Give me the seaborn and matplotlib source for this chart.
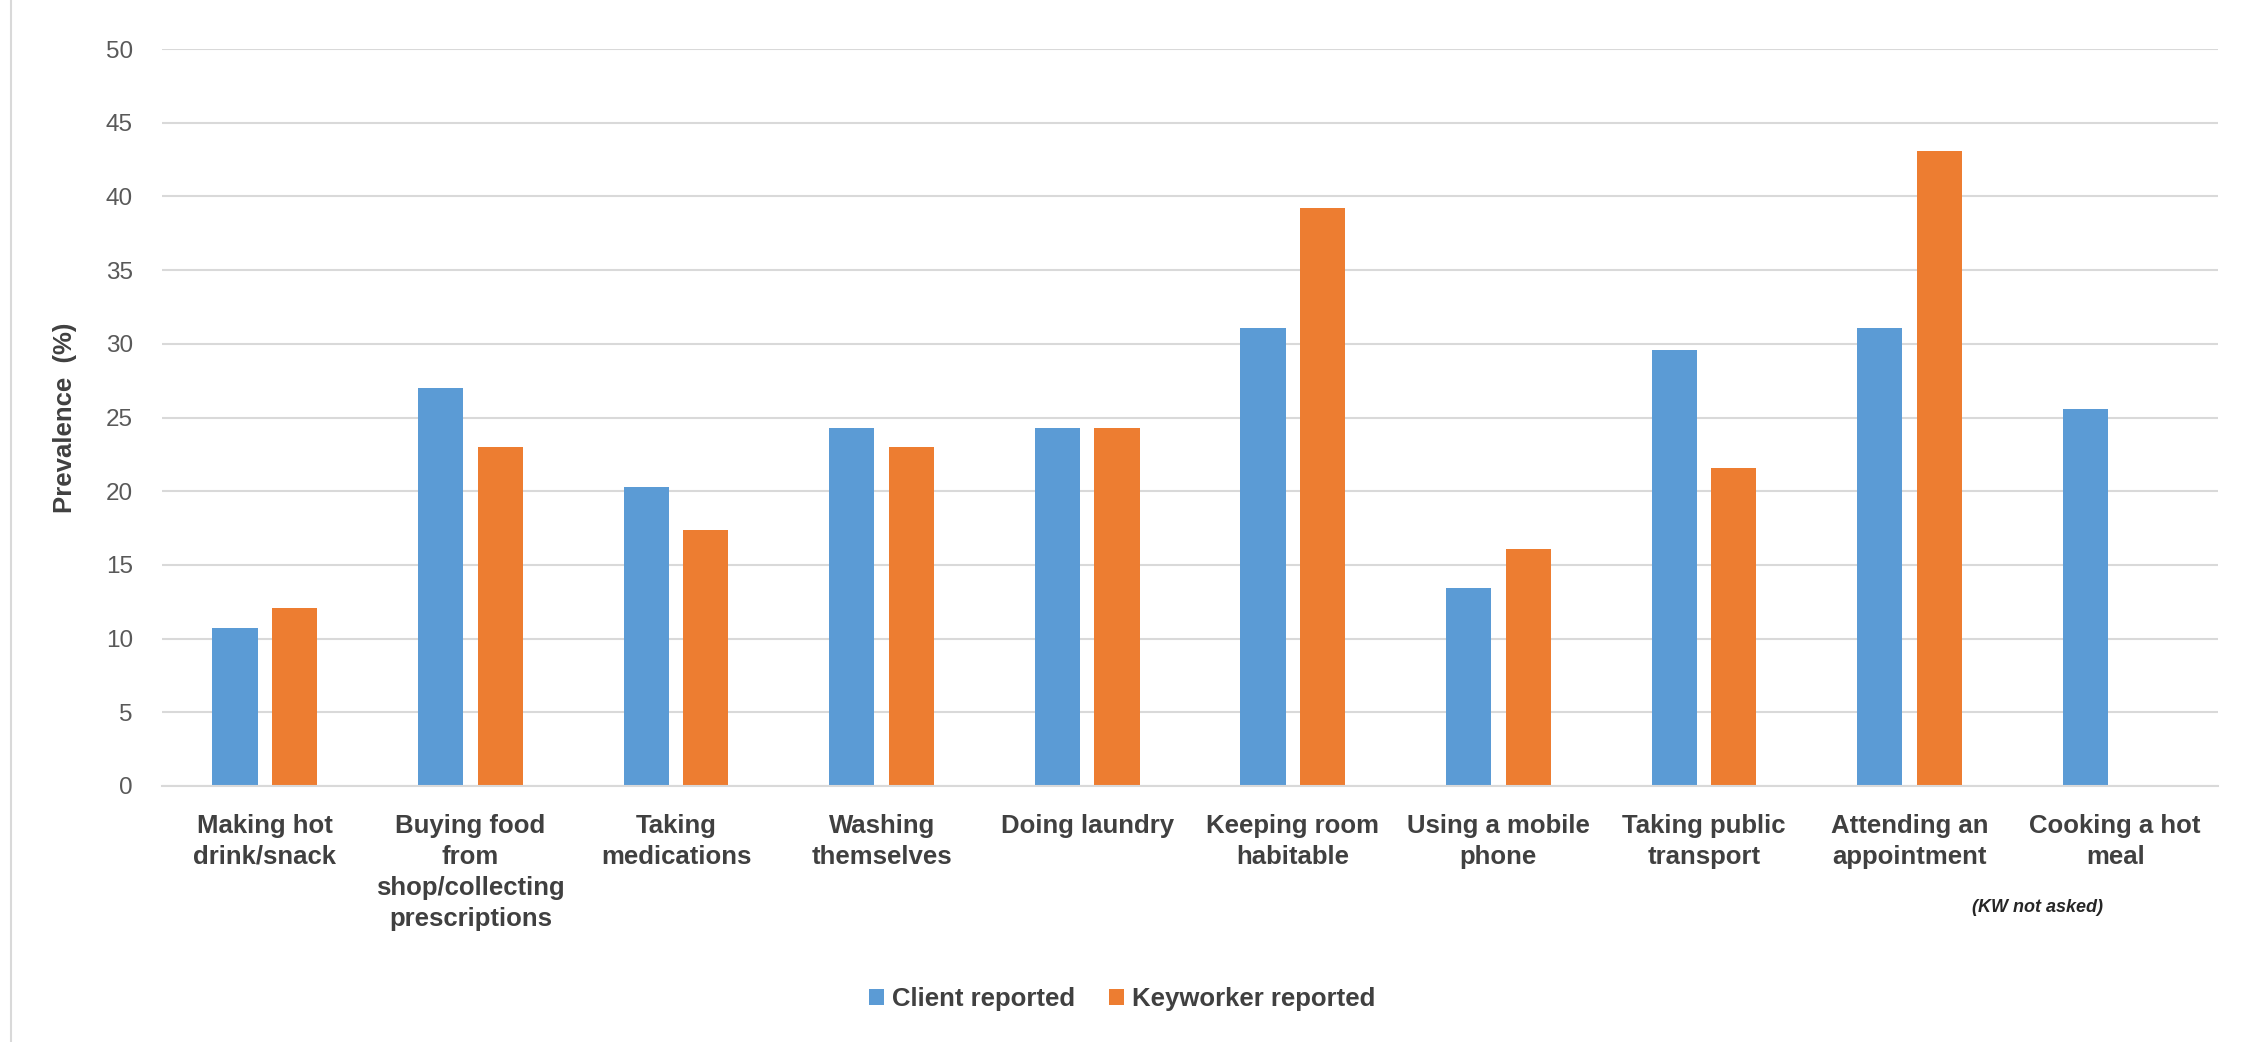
import numpy as np
import pandas as pd
import seaborn as sns
import matplotlib
matplotlib.use("Agg")
import matplotlib.pyplot as plt
from matplotlib.lines import Line2D

categories = [
    "Making hot\ndrink/snack",
    "Buying food\nfrom\nshop/collecting\nprescriptions",
    "Taking\nmedications",
    "Washing\nthemselves",
    "Doing laundry",
    "Keeping room\nhabitable",
    "Using a mobile\nphone",
    "Taking public\ntransport",
    "Attending an\nappointment",
    "Cooking a hot\nmeal",
]
client_reported = [10.7, 27.0, 20.3, 24.3, 24.3, 31.1, 13.4, 29.6, 31.1, 25.6]
keyworker_reported = [12.1, 23.0, 17.4, 23.0, 24.3, 39.2, 16.1, 21.6, 43.1, np.nan]
series_names = ["Client reported", "Keyworker reported"]
y_ticks = [0, 5, 10, 15, 20, 25, 30, 35, 40, 45, 50]

df = pd.DataFrame({
    "Activity": categories * 2,
    "Prevalence": client_reported + keyworker_reported,
    "Series": [series_names[0]] * len(categories) + [series_names[1]] * len(categories),
})

sns.set_theme(style="white")
plt.rcParams["font.family"] = ["Liberation Sans", "DejaVu Sans"]

W, H = 2252, 1042
fig = plt.figure(figsize=(W / 100, H / 100), dpi=100)
left, right, top, bottom = 162, 2218, 49, 786
ax = fig.add_axes([left / W, 1 - bottom / H, (right - left) / W, (bottom - top) / H])

palette = {series_names[0]: "#5B9BD5", series_names[1]: "#ED7D31"}
sns.barplot(data=df, x="Activity", y="Prevalence", hue="Series", order=categories,
            hue_order=series_names, palette=palette, width=0.58, gap=0.24,
            saturation=1, linewidth=0, ax=ax, legend=True)

ax.set_xlim(-0.5, len(categories) - 0.5)
ax.set_ylim(0, 50)
ax.set_yticks(y_ticks)
ax.yaxis.grid(True, color="#D9D9D9", linewidth=1.5)
ax.xaxis.grid(False)
ax.set_axisbelow(True)
for s in ["top", "left", "right"]:
    ax.spines[s].set_visible(False)
ax.spines["bottom"].set_color("#D9D9D9")
ax.spines["bottom"].set_linewidth(1.5)

ax.tick_params(axis="y", length=0, pad=21, labelsize=17.5, labelcolor="#595959")
ax.tick_params(axis="x", length=0, pad=20, labelsize=18.5, labelcolor="#404040")
for lbl in ax.get_xticklabels():
    lbl.set_fontweight("bold")
    lbl.set_linespacing(1.38)

ax.set_xlabel("")
ax.set_ylabel("Prevalence  (%)", fontsize=18.5, fontweight="bold", color="#404040")
ax.yaxis.set_label_coords((77 - left) / (right - left), 0.5)

ax.annotate("(KW not asked)", xy=(8.62, 1 - 908 / H), xycoords=("data", "figure fraction"),
            ha="center", va="center", fontsize=13, fontstyle="italic",
            fontweight="bold", color="#262626", annotation_clip=False)

handles, labels = ax.get_legend_handles_labels()
ax.get_legend().remove()
leg = fig.legend(handles, labels, loc="center", bbox_to_anchor=(1122 / W, 1 - 999 / H),
                 ncol=2, frameon=False, fontsize=18.5, handlelength=0.6, handleheight=0.6,
                 handletextpad=0.3, columnspacing=1.3)
for t in leg.get_texts():
    t.set_fontweight("bold")
    t.set_color("#404040")

fig.add_artist(Line2D([11 / W, 11 / W], [0, 1], color="#D9D9D9", linewidth=1.5))

fig.savefig("out.png", dpi=100, facecolor="white")
